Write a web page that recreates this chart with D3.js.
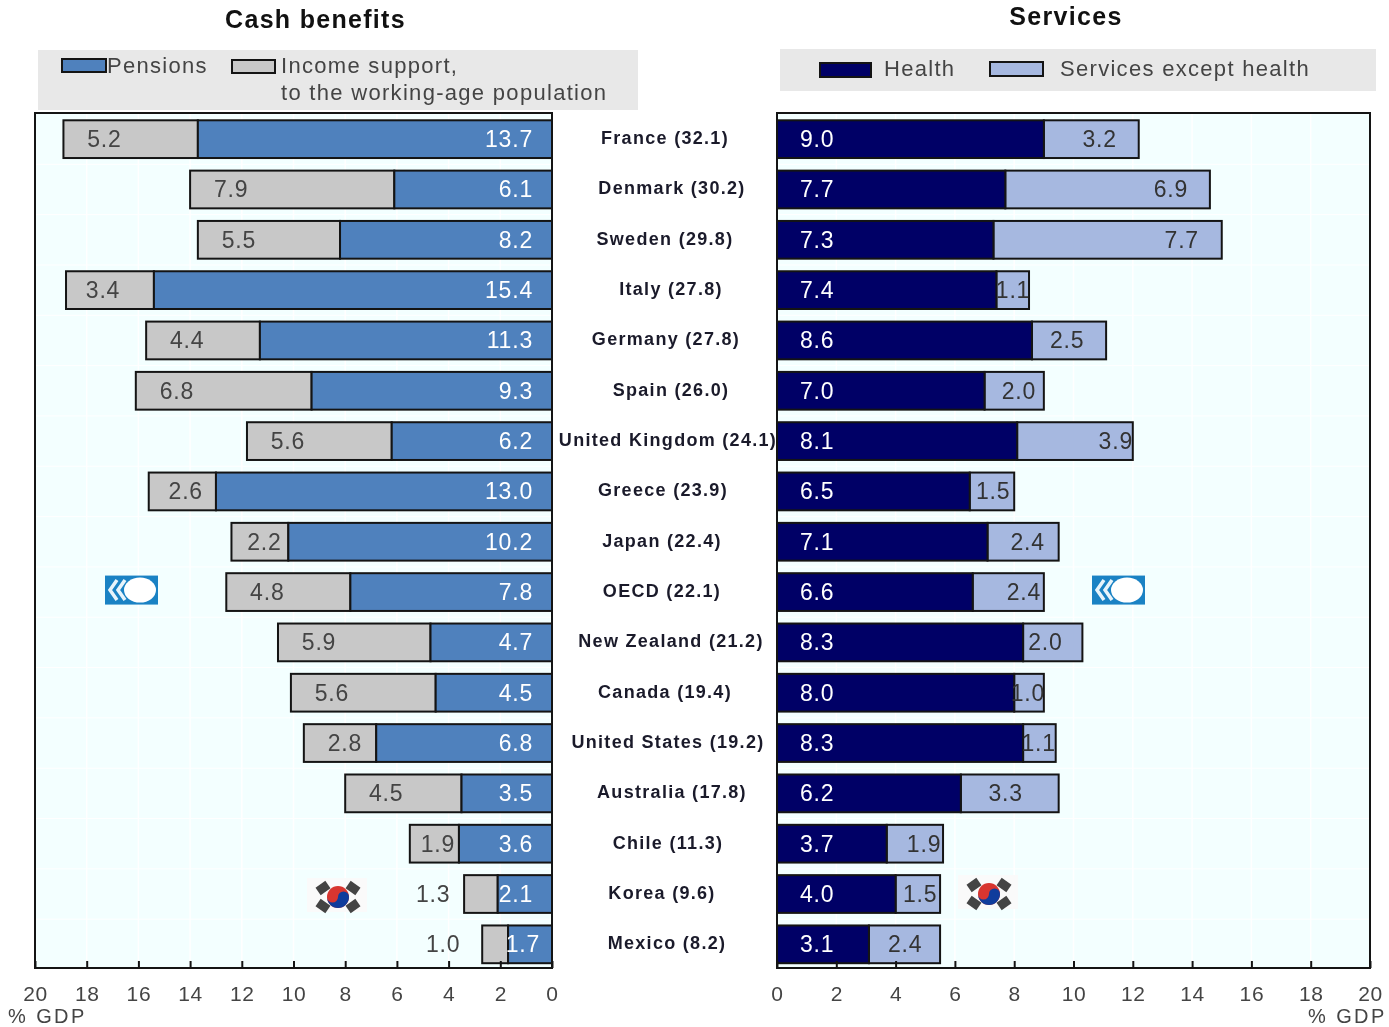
<!DOCTYPE html>
<html>
<head>
<meta charset="utf-8">
<script src="https://cdnjs.cloudflare.com/ajax/libs/d3/7.8.5/d3.min.js"></script>
<style>
  html, body { margin: 0; padding: 0; background: #fff; }
  svg { display: block; filter: blur(0.45px); }
  text { font-family: "Liberation Sans", Arial, sans-serif; }
</style>
</head>
<body>
<div id="chart"></div>
<script>
// chart data
var countries = ["France", "Denmark", "Sweden", "Italy", "Germany", "Spain", "United Kingdom", "Greece", "Japan",
  "OECD", "New Zealand", "Canada", "United States", "Australia", "Chile", "Korea", "Mexico"];
var totals = ["32.1", "30.2", "29.8", "27.8", "27.8", "26.0", "24.1", "23.9", "22.4", "22.1", "21.2", "19.4", "19.2", "17.8", "11.3", "9.6", "8.2"];
var pensions = [13.7, 6.1, 8.2, 15.4, 11.3, 9.3, 6.2, 13.0, 10.2, 7.8, 4.7, 4.5, 6.8, 3.5, 3.6, 2.1, 1.7];
var incomeSupport = [5.2, 7.9, 5.5, 3.4, 4.4, 6.8, 5.6, 2.6, 2.2, 4.8, 5.9, 5.6, 2.8, 4.5, 1.9, 1.3, 1.0];
var health = [9.0, 7.7, 7.3, 7.4, 8.6, 7.0, 8.1, 6.5, 7.1, 6.6, 8.3, 8.0, 8.3, 6.2, 3.7, 4.0, 3.1];
var otherServices = [3.2, 6.9, 7.7, 1.1, 2.5, 2.0, 3.9, 1.5, 2.4, 2.4, 2.0, 1.0, 1.1, 3.3, 1.9, 1.5, 2.4];
var ticks = [0, 2, 4, 6, 8, 10, 12, 14, 16, 18, 20];

// colours
var blue = "#4f81bd", grey = "#c8c8c8", navy = "#000066", lilac = "#a6b8e0", edge = "#141414";

// the source nudges some labels by hand, these are the pixel shifts
var catShift = [-2, 5, -2, 4, -1, 4, 1, -4, -5, -5, 4, -2, 1, 5, 1, -5, 0];
var incomeInset = {"Italy": 37, "Greece": 37, "Japan": 33, "Chile": 28, "Korea": -31, "Mexico": -39};
var pensionShift = {"Mexico": 7};
var serviceInset = {"France": 39, "Denmark": 39, "Italy": 16, "Germany": 39, "Spain": 25, "United Kingdom": 17, "Greece": 21,
  "OECD": 20, "Japan": 31, "New Zealand": 37, "Canada": 16, "United States": 17, "Australia": 53, "Chile": 19, "Korea": 20, "Mexico": 35};

var svg = d3.select("#chart").append("svg")
    .attr("width", 1389)
    .attr("height", 1027);

// set the ranges
var y = d3.scaleBand()
    .domain(countries)
    .range([114, 969.5])
    .paddingInner(0.25)
    .paddingOuter(0.125);
var xLeft = d3.scaleLinear().domain([20, 0]).range([35, 552]);
var xRight = d3.scaleLinear().domain([0, 20]).range([777, 1370]);

// titles
svg.append("text").attr("x", 315.5).attr("y", 28).attr("text-anchor", "middle")
    .style("font-size", "25px").style("font-weight", "bold").style("letter-spacing", "1.3px")
    .attr("fill", "#111").text("Cash benefits");
svg.append("text").attr("x", 1066).attr("y", 25).attr("text-anchor", "middle")
    .style("font-size", "25px").style("font-weight", "bold").style("letter-spacing", "1.3px")
    .attr("fill", "#111").text("Services");

// legends
function legendText(x, yy, s) {
  svg.append("text").attr("x", x).attr("y", yy)
      .style("font-size", "22px").style("letter-spacing", "1.3px")
      .attr("fill", "#444").text(s);
}
function legendBox(x, yy, w, h, fill) {
  svg.append("rect").attr("x", x).attr("y", yy).attr("width", w).attr("height", h)
      .attr("fill", fill).attr("stroke", edge).attr("stroke-width", 2);
}
svg.append("rect").attr("x", 38).attr("y", 50).attr("width", 600).attr("height", 60).attr("fill", "#e8e8e8");
legendBox(62, 59, 44, 13, blue);
legendText(107, 73, "Pensions");
legendBox(232, 60, 43, 13, grey);
legendText(281, 73, "Income support,");
legendText(281, 100, "to the working-age population");

svg.append("rect").attr("x", 780).attr("y", 49).attr("width", 596).attr("height", 42).attr("fill", "#e8e8e8");
legendBox(820, 63, 51, 14, navy);
legendText(884, 76, "Health");
legendBox(990, 62, 53, 14, lilac);
legendText(1060, 76, "Services except health");

// one panel: background, white grid, bars, axis
function drawPanel(x, first, second, firstFill, secondFill) {
  var x0 = x.range()[0], x1 = x.range()[1];
  var zero = x(0);
  var g = svg.append("g");

  g.append("rect").attr("x", x0).attr("y", 113).attr("width", x1 - x0).attr("height", 855).attr("fill", "#f3ffff");

  g.selectAll(".grid").data(ticks).enter().append("line")
      .attr("x1", function(d) { return x(d); })
      .attr("x2", function(d) { return x(d); })
      .attr("y1", 113).attr("y2", 968)
      .attr("stroke", "#fff").attr("stroke-width", 1.5);

  // faint row lines between the bars
  g.selectAll(".rowline").data(countries.slice(1)).enter().append("line")
      .attr("x1", x0).attr("x2", x1)
      .attr("y1", function(d) { return y(d) - y.step() * 0.125; })
      .attr("y2", function(d) { return y(d) - y.step() * 0.125; })
      .attr("stroke", "#fff").attr("stroke-width", 1);

  var rows = countries.map(function(c, i) {
    return {name: c, a: first[i], b: second[i]};
  });

  // second segment sits on the end of the first
  g.selectAll(".second").data(rows).enter().append("rect")
      .attr("x", function(d) { return Math.min(x(d.a), x(d.a + d.b)); })
      .attr("y", function(d) { return y(d.name); })
      .attr("width", function(d) { return Math.abs(x(d.a + d.b) - x(d.a)); })
      .attr("height", y.bandwidth())
      .attr("fill", secondFill).attr("stroke", edge).attr("stroke-width", 2);

  g.selectAll(".first").data(rows).enter().append("rect")
      .attr("x", function(d) { return Math.min(zero, x(d.a)); })
      .attr("y", function(d) { return y(d.name); })
      .attr("width", function(d) { return Math.abs(x(d.a) - zero); })
      .attr("height", y.bandwidth())
      .attr("fill", firstFill).attr("stroke", edge).attr("stroke-width", 2);

  var axis = g.append("g")
      .attr("transform", "translate(0,968)")
      .call(d3.axisBottom(x).tickValues(ticks).tickSizeInner(-7).tickSizeOuter(0).tickPadding(18));
  axis.select(".domain").remove();
  axis.selectAll("line").attr("stroke", edge).attr("stroke-width", 2);
  axis.selectAll("text")
      .style("font-size", "21px").style("letter-spacing", "0.6px")
      .style("font-family", "'Liberation Sans', Arial, sans-serif")
      .attr("fill", "#444");

  g.append("rect").attr("x", x0).attr("y", 113).attr("width", x1 - x0).attr("height", 855)
      .attr("fill", "none").attr("stroke", edge).attr("stroke-width", 2);
  return g;
}

// category labels first, the right panel covers the end of the long one
svg.selectAll(".cat").data(countries).enter().append("text")
    .attr("x", function(d, i) { return 667 + catShift[i]; })
    .attr("y", function(d) { return y(d) + y.bandwidth() / 2 + 5; })
    .attr("text-anchor", "middle")
    .style("font-size", "18px").style("font-weight", "bold").style("letter-spacing", "1.3px")
    .attr("fill", "#1a1a2a")
    .text(function(d, i) { return d + " (" + totals[i] + ")"; });

var leftPanel = drawPanel(xLeft, pensions, incomeSupport, blue, grey);
var rightPanel = drawPanel(xRight, health, otherServices, navy, lilac);

function valueLabels(g, values, xPos, anchor, fill) {
  g.selectAll(".val").data(values).enter().append("text")
      .attr("x", function(d, i) { return xPos(d, i); })
      .attr("y", function(d, i) { return y(countries[i]) + y.bandwidth() / 2 + 8; })
      .attr("text-anchor", anchor)
      .style("font-size", "23px").style("letter-spacing", "0.8px")
      .attr("fill", fill)
      .text(function(d) { return d.toFixed(1); });
}

valueLabels(leftPanel.append("g"), pensions, function(d, i) {
  return 533 + (pensionShift[countries[i]] || 0);
}, "end", "#fff");
valueLabels(leftPanel.append("g"), incomeSupport, function(d, i) {
  var inset = incomeInset[countries[i]];
  return xLeft(pensions[i] + d) + (inset === undefined ? 41 : inset);
}, "middle", "#444");
valueLabels(rightPanel.append("g"), health, function() { return 800; }, "start", "#fff");
valueLabels(rightPanel.append("g"), otherServices, function(d, i) {
  return xRight(health[i] + d) - (serviceInset[countries[i]] || 40);
}, "middle", "#333");

// % GDP under each axis
svg.append("text").attr("x", 8).attr("y", 1023).style("font-size", "20px").style("letter-spacing", "2.4px").attr("fill", "#444").text("% GDP");
svg.append("text").attr("x", 1308).attr("y", 1023).style("font-size", "20px").style("letter-spacing", "2.4px").attr("fill", "#444").text("% GDP");

// OECD logo, sits beside its row
function oecdLogo(left) {
  var cy = y("OECD") + y.bandwidth() / 2 - 2;
  var g = svg.append("g").attr("transform", "translate(" + left + "," + cy + ")");
  g.append("rect").attr("x", 0).attr("y", -14.5).attr("width", 53).attr("height", 29).attr("fill", "#1a82c4");
  g.append("ellipse").attr("cx", 35).attr("cy", 0).attr("rx", 16).attr("ry", 12.5).attr("fill", "#fff");
  [5, 13].forEach(function(dx) {
    g.append("path")
        .attr("d", "M" + (dx + 7) + ",-10L" + dx + ",0L" + (dx + 7) + ",10")
        .attr("fill", "none").attr("stroke", "#e8f4fb").attr("stroke-width", 3.5);
  });
}
oecdLogo(105);
oecdLogo(1092);

// Korean flag, sits beside its row
function koreaFlag(cx, cy) {
  var g = svg.append("g").attr("transform", "translate(" + cx + "," + cy + ")");
  g.append("rect").attr("x", -30).attr("y", -17).attr("width", 60).attr("height", 34).attr("fill", "#fafafa");
  var mark = g.append("g").attr("transform", "translate(1,2)");
  mark.append("circle").attr("r", 11).attr("fill", "#d8352f");
  mark.append("path").attr("d", "M-11,0A5.5,5.5 0 0 0 0,0A5.5,5.5 0 0 1 11,0A11,11 0 0 1 -11,0Z").attr("fill", "#0f3c9c");
  [[-15, -9, -35], [15, -9, 35], [-15, 9, 35], [15, 9, -35]].forEach(function(p) {
    mark.append("rect").attr("x", -6).attr("y", -4.5).attr("width", 12).attr("height", 9)
        .attr("transform", "translate(" + p[0] + "," + p[1] + ") rotate(" + p[2] + ")")
        .attr("fill", "#444");
  });
}
koreaFlag(337, 895);
koreaFlag(988, 892);
</script>
</body>
</html>
